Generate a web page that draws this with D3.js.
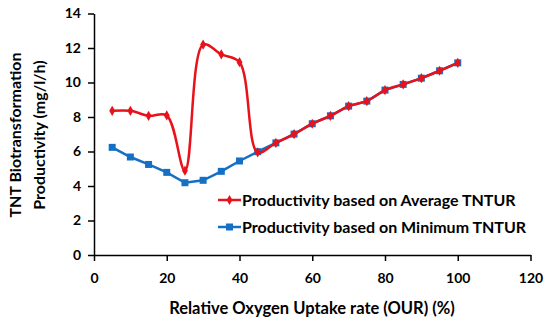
<!DOCTYPE html>
<html>
<head>
<meta charset="utf-8" />
<title>TNT productivity</title>
<style>
    body { margin: 0; background: #fff; }
    text { font-family: Lato, "Open Sans", sans-serif; font-weight: bold; fill: #000; }
</style>
</head>
<body>
<div id="container"></div>
<script src="https://cdn.jsdelivr.net/npm/d3@7"></script>
<script>
    const ourPct = [5, 10, 15, 20, 25, 30, 35, 40, 45, 50, 55, 60, 65, 70, 75, 80, 85, 90, 95, 100]
    const avgTntur = [8.36, 8.36, 8.07, 8.09, 4.89, 12.2, 11.63, 11.18, 5.95, 6.5, 7.01, 7.61, 8.07, 8.63, 8.92, 9.56, 9.89, 10.25, 10.68, 11.14]
    const minTntur = [6.24, 5.68, 5.25, 4.79, 4.19, 4.33, 4.85, 5.45, 5.99, 6.5, 7.01, 7.61, 8.07, 8.63, 8.92, 9.56, 9.89, 10.25, 10.68, 11.14]
    const xTicks = [0, 20, 40, 60, 80, 100, 120]
    const yTicks = [0, 2, 4, 6, 8, 10, 12, 14]
    const seriesNames = ['Productivity based on Average TNTUR', 'Productivity based on Minimum TNTUR']

    const red = '#e8121b'
    const blue = '#1470c4'

    const svg = d3.select('#container').append('svg').attr('width', 550).attr('height', 323)

    const x = d3.scaleLinear().domain([0, 120]).range([94, 530.5])
    const y = d3.scaleLinear().domain([0, 14]).range([255, 13.5])

    // axes
    const axisX = d3.axisBottom(x).tickValues(xTicks).tickSize(6).tickSizeOuter(0)
    const axisY = d3.axisLeft(y).tickValues(yTicks).tickSize(6).tickSizeOuter(0)

    const gx = svg.append('g').attr('transform', `translate(0, ${y(0)})`).call(axisX)
    const gy = svg.append('g').attr('transform', `translate(${x(0)}, 0)`).call(axisY)

    ;[gx, gy].forEach(g => {
        g.select('.domain').attr('stroke', '#000').attr('stroke-width', 1.5)
        g.selectAll('.tick line').attr('stroke', '#000').attr('stroke-width', 1.5)
        g.selectAll('.tick text').style('font-size', '14px').style('font-family', 'Lato, sans-serif').style('font-weight', 'bold').attr('fill', '#000')
    })
    gx.selectAll('.tick text').attr('dy', null).attr('y', 28)
    gy.selectAll('.tick text').attr('x', -13)

    // axis titles
    svg.append('text').attr('x', 312).attr('y', 314).attr('text-anchor', 'middle')
        .style('font-size', '16.5px').text('Relative Oxygen Uptake rate (OUR) (%)')
    const yt = svg.append('text').attr('transform', 'translate(16, 135) rotate(-90)').attr('text-anchor', 'middle')
        .style('font-size', '16px')
    yt.append('tspan').attr('x', 0).attr('y', 5).text('TNT Biotransformation')
    yt.append('tspan').attr('x', 0).attr('y', 29).text('Productivity (mg/l/h)')

    // series
    const minPts = ourPct.map((d, i) => [d, minTntur[i]])
    const avgPts = ourPct.map((d, i) => [d, avgTntur[i]])

    const lineMin = d3.line().x(d => x(d[0])).y(d => y(d[1]))
    const lineAvg = d3.line().x(d => x(d[0])).y(d => y(d[1])).curve(d3.curveCatmullRom.alpha(0.5))

    svg.append('path').attr('d', lineMin(minPts)).attr('fill', 'none').attr('stroke', blue).attr('stroke-width', 2.5)
    svg.append('g').selectAll('rect').data(minPts).join('rect')
        .attr('x', d => x(d[0]) - 3.5).attr('y', d => y(d[1]) - 3.5)
        .attr('width', 7).attr('height', 7).attr('fill', blue)

    svg.append('path').attr('d', lineAvg(avgPts)).attr('fill', 'none').attr('stroke', red).attr('stroke-width', 2.5)
    const diamond = d3.symbol().type(d3.symbolDiamond).size(30)
    svg.append('g').selectAll('path').data(avgPts).join('path')
        .attr('transform', d => `translate(${x(d[0])}, ${y(d[1])})`)
        .attr('d', diamond).attr('fill', red)

    // legend
    const legend = svg.append('g')
    const legendRows = [
        { name: seriesNames[0], color: red, shape: 'diamond', cy: 200 },
        { name: seriesNames[1], color: blue, shape: 'square', cy: 227 }
    ]
    legendRows.forEach(r => {
        legend.append('line').attr('x1', 218).attr('x2', 241).attr('y1', r.cy).attr('y2', r.cy)
            .attr('stroke', r.color).attr('stroke-width', 2.5)
        if (r.shape === 'diamond') {
            legend.append('path').attr('transform', `translate(229.5, ${r.cy})`).attr('d', diamond).attr('fill', r.color)
        } else {
            legend.append('rect').attr('x', 226).attr('y', r.cy - 3.5).attr('width', 7).attr('height', 7).attr('fill', r.color)
        }
        legend.append('text').attr('x', 242).attr('y', r.cy + 5.5).style('font-size', '16px').text(r.name)
    })
</script>
</body>
</html>
